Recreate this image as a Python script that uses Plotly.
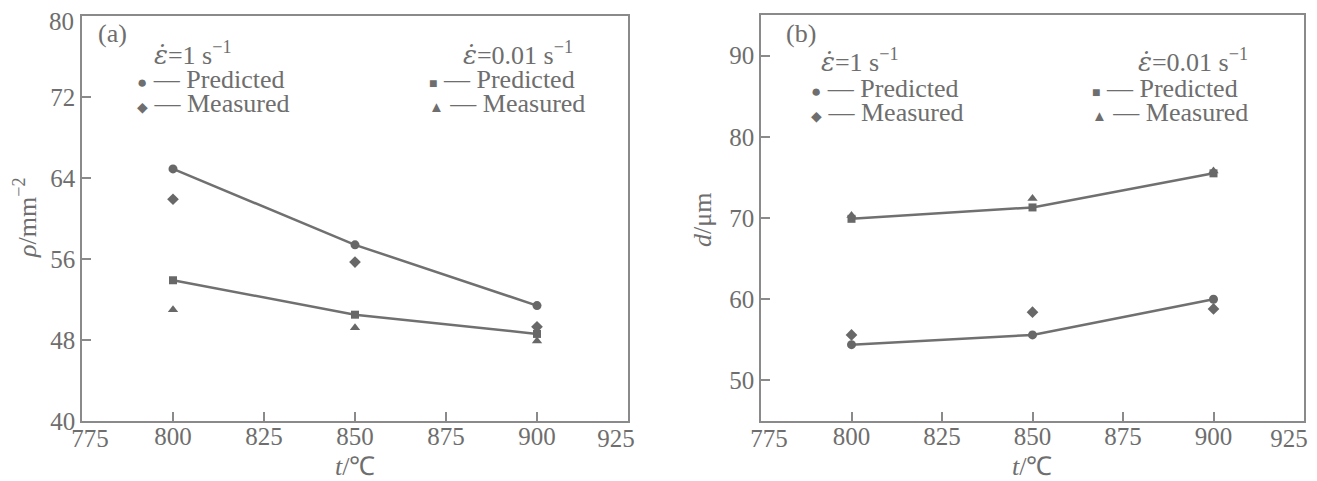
import plotly.graph_objects as go

# ---------------- data ----------------
temps = [800, 850, 900]

# panel (a): dislocation density rho / mm^-2
rho_pred_1 = [64.9, 57.4, 51.4]     # strain rate 1 s^-1, predicted
rho_meas_1 = [61.9, 55.7, 49.3]     # strain rate 1 s^-1, measured
rho_pred_001 = [53.9, 50.5, 48.6]   # strain rate 0.01 s^-1, predicted
rho_meas_001 = [51.0, 49.2, 47.9]   # strain rate 0.01 s^-1, measured

# panel (b): grain size d / um
d_pred_1 = [54.4, 55.6, 60.0]
d_meas_1 = [55.6, 58.4, 58.8]
d_pred_001 = [69.9, 71.3, 75.5]
d_meas_001 = [70.3, 72.4, 75.8]

x_ticks_inner = [800, 825, 850, 875, 900]
x_tick_first = [775]
x_tick_last = [925]
y_ticks_a = [40, 48, 56, 64, 72]
y_tick_a_top = [80]
y_ticks_b = [50, 60, 70, 80, 90]

# ---------------- style ----------------
OFF = 8                      # page body margin in the browser
W, H = 1317 - OFF, 481 - OFF
FONT = "Liberation Serif"
TXT = "#6e6e6e"
AX = "#8a8a8a"
LINE = "#707070"
MK = "#686868"


def px(x):
    return (x - OFF) / W


def py(y):
    return 1 - (y - OFF) / H


fig = go.Figure()

panels = [
    ("x", "y", rho_pred_1, rho_meas_1, rho_pred_001, rho_meas_001),
    ("x2", "y2", d_pred_1, d_meas_1, d_pred_001, d_meas_001),
]
for xa, ya, p1, m1, p2, m2 in panels:
    fig.add_trace(go.Scatter(x=temps, y=p1, xaxis=xa, yaxis=ya, mode="lines+markers",
                             line=dict(color=LINE, width=2.5),
                             marker=dict(symbol="circle", size=9, color=MK), showlegend=False))
    fig.add_trace(go.Scatter(x=temps, y=m1, xaxis=xa, yaxis=ya, mode="markers",
                             marker=dict(symbol="diamond", size=9, color=MK), showlegend=False))
    fig.add_trace(go.Scatter(x=temps, y=p2, xaxis=xa, yaxis=ya, mode="lines+markers",
                             line=dict(color=LINE, width=2.5),
                             marker=dict(symbol="square", size=8, color=MK), showlegend=False))
    fig.add_trace(go.Scatter(x=temps, y=m2, xaxis=xa, yaxis=ya, mode="markers",
                             marker=dict(symbol="triangle-up", size=9, color=MK), showlegend=False))

# empty traces so that the label-only overlay axes get drawn
for xa, ya in [("x3", "y"), ("x4", "y"), ("x5", "y2"), ("x6", "y2"), ("x", "y3")]:
    fig.add_trace(go.Scatter(x=[], y=[], xaxis=xa, yaxis=ya, mode="markers",
                             showlegend=False, hoverinfo="skip"))

axis_common = dict(showline=True, linecolor=AX, linewidth=1.5, mirror=True,
                   ticks="inside", ticklen=9, tickcolor=AX, tickwidth=1.5,
                   showgrid=False, zeroline=False, automargin=False,
                   ticklabeloverflow="allow",
                   tickfont=dict(family=FONT, size=25, color=TXT))

# label-only overlay axes for the edge ticks (labels nudged inward as in the original)
edge_common = dict(showline=False, ticks="", showgrid=False, zeroline=False,
                   automargin=False, ticklabeloverflow="allow",
                   tickfont=dict(family=FONT, size=25, color=TXT))

XR = [775, 925]
fig.update_layout(
    width=W, height=H,
    margin=dict(l=0, r=0, t=0, b=0, pad=0),
    paper_bgcolor="white", plot_bgcolor="white",
    xaxis=dict(domain=[px(82), px(628)], range=XR, tickvals=x_ticks_inner,
               anchor="y", ticklabelstandoff=-8, **axis_common),
    yaxis=dict(domain=[py(421), py(16)], range=[40, 80], tickvals=y_ticks_a,
               anchor="x", **axis_common),
    xaxis2=dict(domain=[px(761), px(1304)], range=XR, tickvals=x_ticks_inner,
                anchor="y2", ticklabelstandoff=-8, **axis_common),
    yaxis2=dict(domain=[py(421), py(15)], range=[45, 95], tickvals=y_ticks_b,
                anchor="x2", **axis_common),
    xaxis3=dict(overlaying="x", anchor="y", side="bottom", range=XR,
                tickvals=x_tick_first, ticklabelshift=8, **edge_common),
    xaxis4=dict(overlaying="x", anchor="y", side="bottom", range=XR,
                tickvals=x_tick_last, ticklabelshift=-12, **edge_common),
    xaxis5=dict(overlaying="x2", anchor="y2", side="bottom", range=XR,
                tickvals=x_tick_first, ticklabelshift=8, **edge_common),
    xaxis6=dict(overlaying="x2", anchor="y2", side="bottom", range=XR,
                tickvals=x_tick_last, ticklabelshift=-15, **edge_common),
    yaxis3=dict(overlaying="y", anchor="x", side="left", range=[40, 80],
                tickvals=y_tick_a_top, ticklabelshift=5, ticklabelstandoff=7,
                **edge_common),
    showlegend=False,
)


def ann(x, y, text, size=26, xanchor="left", angle=0):
    fig.add_annotation(x=px(x), y=py(y), xref="paper", yref="paper", text=text,
                       showarrow=False, xanchor=xanchor, yanchor="middle",
                       textangle=angle, borderpad=0,
                       font=dict(family=FONT, size=size, color=TXT))


def legend_row(x_mark, y, glyph, label, gsize):
    ann(x_mark - 7, y,
        f"<span style='font-size:{gsize}px'>{glyph}</span>\u00a0—\u00a0{label}", size=26)


EDOT = "<span style='font-family:DejaVu Serif'><i>ε̇</i></span>"


def rate_label(x, y, rate):
    ann(x, y, f"{EDOT}={rate} s<sup>−1</sup>", size=26)


# panel (a) annotations
ann(97, 34, "(a)", size=26)
rate_label(153, 54, "1")
legend_row(143, 80, "●", "Predicted", 17)
legend_row(143, 104, "◆", "Measured", 14)
rate_label(462, 54, "0.01")
legend_row(435, 80, "■", "Predicted", 14)
legend_row(435, 104, "▲", "Measured", 15)
ann(26, 218, "<i>ρ</i>/mm<sup>−2</sup>", size=26, xanchor="center", angle=-90)
ann(355, 466, "<i>t</i>/℃", size=26, xanchor="center")

# panel (b) annotations
ann(785, 33, "(b)", size=26)
rate_label(820, 60, "1")
legend_row(817, 88, "●", "Predicted", 17)
legend_row(817, 112, "◆", "Measured", 14)
rate_label(1137, 60, "0.01")
legend_row(1098, 88, "■", "Predicted", 14)
legend_row(1098, 112, "▲", "Measured", 15)
ann(703, 220, "<i>d</i>/μm", size=26, xanchor="center", angle=-90)
ann(1032, 466, "<i>t</i>/℃", size=26, xanchor="center")

fig.write_html("out.html")
